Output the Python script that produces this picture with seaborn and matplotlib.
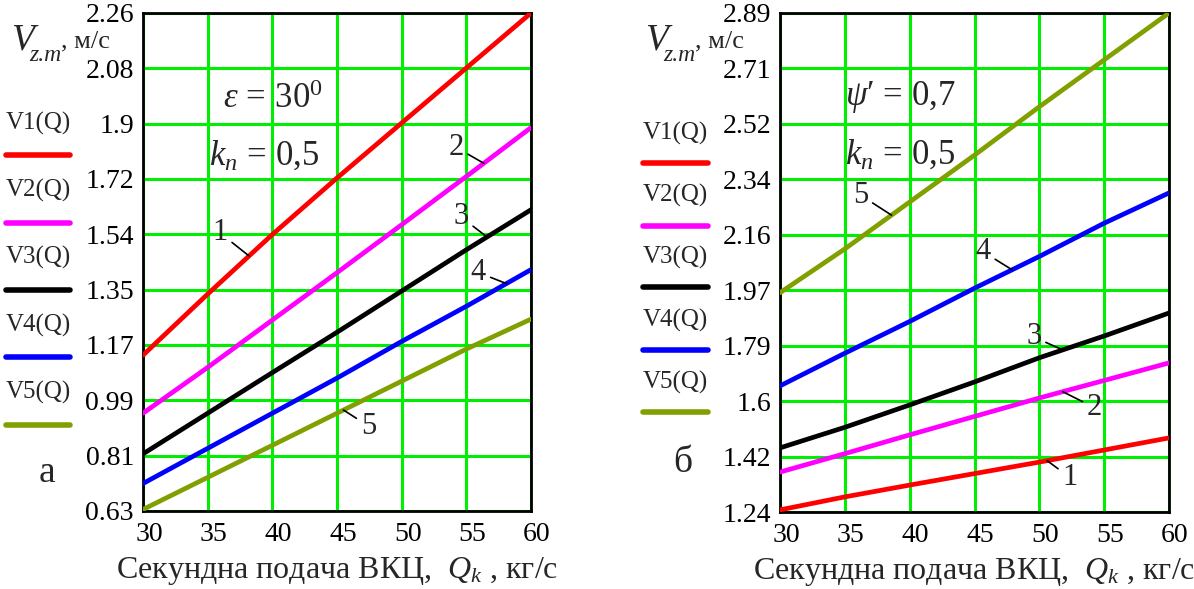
import numpy as np
import pandas as pd
import matplotlib
matplotlib.use("Agg")
import matplotlib.pyplot as plt
import matplotlib.transforms as mtransforms
from matplotlib.lines import Line2D
import seaborn as sns

sns.set_style("white")
plt.rcParams["font.family"] = "serif"
plt.rcParams["font.serif"] = ["Liberation Serif", "DejaVu Serif"]
plt.rcParams["mathtext.fontset"] = "custom"
plt.rcParams["mathtext.rm"] = "Liberation Serif"
plt.rcParams["mathtext.it"] = "Liberation Serif:italic"

# ------------------------------------------------------------
# data
# ------------------------------------------------------------
Q = [30, 35, 40, 45, 50, 55, 60]

# panel а: eps = 30 deg, k_n = 0.5
a_V1 = [1.14, 1.34, 1.535, 1.72, 1.90, 2.08, 2.26]
a_V2 = [0.95, 1.10, 1.255, 1.41, 1.567, 1.725, 1.885]
a_V3 = [0.817, 0.95, 1.083, 1.215, 1.35, 1.485, 1.616]
a_V4 = [0.72, 0.835, 0.95, 1.065, 1.185, 1.30, 1.42]
a_V5 = [0.635, 0.74, 0.845, 0.95, 1.055, 1.16, 1.258]

# panel б: psi' = 0.7, k_n = 0.5
b_V1 = [1.247, 1.29, 1.329, 1.367, 1.405, 1.445, 1.485]
b_V2 = [1.372, 1.433, 1.495, 1.556, 1.617, 1.675, 1.733]
b_V3 = [1.452, 1.52, 1.594, 1.67, 1.75, 1.822, 1.898]
b_V4 = [1.657, 1.765, 1.87, 1.98, 2.085, 2.195, 2.295]
b_V5 = [1.965, 2.11, 2.265, 2.42, 2.58, 2.735, 2.89]

series = ["V1(Q)", "V2(Q)", "V3(Q)", "V4(Q)", "V5(Q)"]
colors = ["#FF0000", "#FF00FF", "#000000", "#0000FF", "#80A000"]

a_yticks = [0.63, 0.81, 0.99, 1.17, 1.35, 1.54, 1.72, 1.9, 2.08, 2.26]
b_yticks = [1.24, 1.42, 1.6, 1.79, 1.97, 2.16, 2.34, 2.52, 2.71, 2.89]
xticks = [30, 35, 40, 45, 50, 55, 60]

# number tags: (series index, Q on curve, text offset in px)
a_tags = [(0, 38.2, (-29, 23)), (1, 56.35, (-28, 16)), (2, 56.6, (-26, 20)),
          (3, 58.1, (-28, 11)), (4, 45.5, (25, -16))]
b_tags = [(4, 38.6, (-31, 20)), (3, 47.9, (-29, 18)), (2, 51.8, (-29, 13)),
          (1, 51.8, (32, -16)), (0, 50.6, (23, -17))]

W, H = 1194, 589
fig = plt.figure(figsize=(W / 100, H / 100), dpi=100)


def long_df(vals):
    return pd.DataFrame({
        "Q": Q * len(series),
        "V": sum(vals, []),
        "s": np.repeat(series, len(Q)),
    })


def panel(rect, vals, yticks, tags, note, letter_xy, letter, leg_x, leg_y, ylab_x):
    ax = fig.add_axes(rect)
    sns.lineplot(data=long_df(vals), x="Q", y="V", hue="s", palette=colors,
                 lw=3.4, legend=False, ax=ax, zorder=3)
    ax.set_xlim(30, 60)
    ax.set_ylim(yticks[0], yticks[-1])
    grid = np.linspace(yticks[0], yticks[-1], len(yticks))
    ax.set_yticks(grid, [str(t) for t in yticks])
    ax.set_xticks(xticks, [str(t) for t in xticks])
    ax.grid(True, color="#00EE00", lw=2.2)
    ax.set_axisbelow(True)
    for sp in ax.spines.values():
        sp.set_color("black")
        sp.set_linewidth(2)
    ax.tick_params(length=0, labelsize=20, colors="black")
    ax.tick_params(axis="y", pad=6.5)
    ax.tick_params(axis="x", pad=8)
    off = mtransforms.ScaledTranslation(6 / 100, 0, fig.dpi_scale_trans)
    for lb in ax.get_xticklabels():
        lb.set_transform(lb.get_transform() + off)
    ax.set_xlabel(r"Секундна подача ВКЦ,  $Q_k$ , кг/с", fontsize=23, labelpad=6)
    ax.set_ylabel("")

    # number tags with leader lines
    for i, q, (dx, dy) in tags:
        ax.annotate(str(i + 1), xy=(q, np.interp(q, Q, vals[i])),
                    xytext=(dx * 0.72, dy * 0.72), textcoords="offset points",
                    ha="center", va="center", fontsize=22,
                    arrowprops=dict(arrowstyle="-", lw=1.2, color="black",
                                    shrinkA=1, shrinkB=0))

    # parameter notes
    for (tx, ty, s) in note:
        ax.text(tx, ty, s, transform=ax.transAxes, fontsize=25,
                ha="left", va="center")

    # Mathcad-style legend: label, then swatch under it
    for k, (name, c) in enumerate(zip(series, colors)):
        fig.text((leg_x[0] + leg_x[1]) / 2 / W, 1 - leg_y[0][k] / H, name,
                 fontsize=18, ha="center", va="center")
        fig.add_artist(Line2D([leg_x[0] / W, leg_x[1] / W],
                              [1 - leg_y[1][k] / H] * 2, color=c, lw=4))

    # axis title: V_{z.m}, м/с
    fig.text(ylab_x / W, 1 - 50 / H, "V", fontsize=27, style="italic",
             ha="left", va="baseline")
    fig.text((ylab_x + 18) / W, 1 - 61 / H, "z.m", fontsize=17, style="italic",
             ha="left", va="baseline")
    fig.text((ylab_x + 50) / W, 1 - 47 / H, ", м/с", fontsize=19, ha="left",
             va="baseline")
    fig.text(letter_xy[0] / W, 1 - letter_xy[1] / H, letter, fontsize=27,
             ha="center", va="center")
    return ax


panel([143 / W, 1 - 511 / H, 388 / W, 498 / H],
      [a_V1, a_V2, a_V3, a_V4, a_V5], a_yticks, a_tags,
      [(0.205, 0.827, r"$\varepsilon\, =\, 30^0$"), (0.169, 0.712, r"$k_n\, =\, 0{,}5$")],
      (47, 473), "а", (6, 70),
      ([123, 190, 257, 325, 392], [155, 223, 290, 357, 425]), 11)

panel([780 / W, 1 - 512 / H, 389 / W, 499 / H],
      [b_V1, b_V2, b_V3, b_V4, b_V5], b_yticks, b_tags,
      [(0.168, 0.832, "$\\psi$′ = 0,7"), (0.168, 0.715, r"$k_n\, =\, 0{,}5$")],
      (683, 463), "б", (643, 708),
      ([133, 195, 257, 320, 382], [163, 226, 287, 350, 412]), 645)

fig.savefig("out.png", dpi=100)
